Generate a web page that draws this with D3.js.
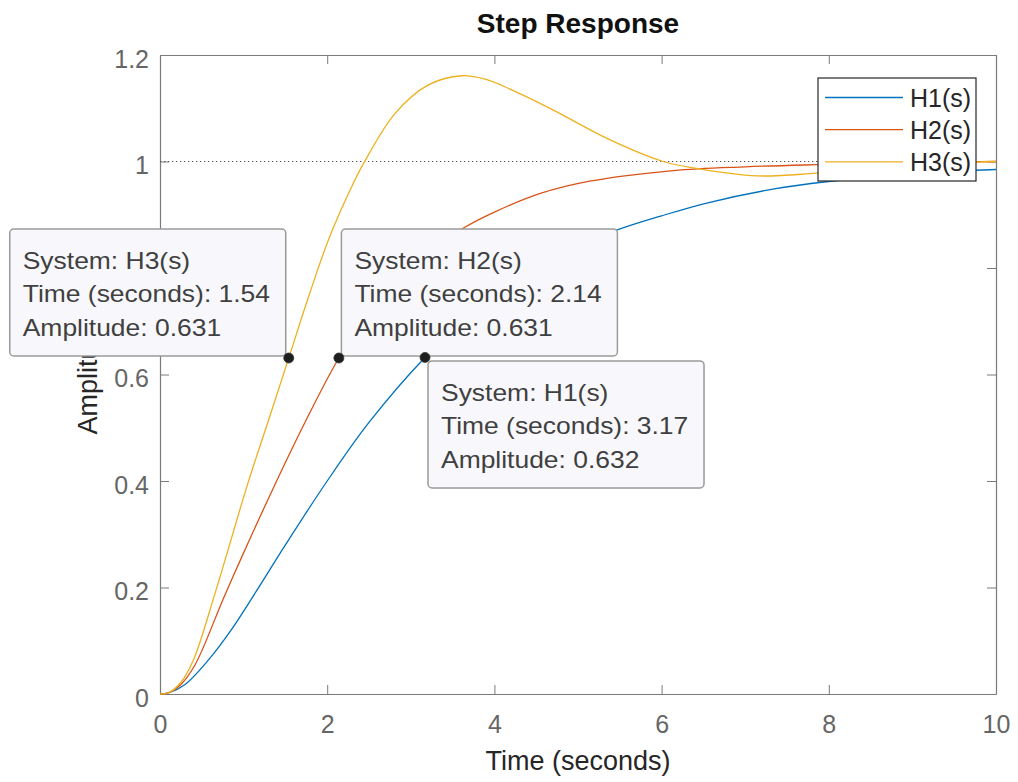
<!DOCTYPE html>
<html>
<head>
<meta charset="utf-8">
<script src="https://cdn.jsdelivr.net/npm/d3@7"></script>
<style>
  body { margin: 0; background: #fff; }
  text { font-family: "Liberation Sans", Arial, sans-serif; }
</style>
</head>
<body>
<div id="chart"></div>
<script>
// step response samples: [time, amplitude]
const h1 = [[0,0],[0.1,0.002],[0.3,0.018],[0.58,0.064],[0.85,0.12],[1.16,0.195],[1.5,0.28],
  [2.0,0.40],[2.5,0.51],[3.17,0.632],[3.5,0.68],[4.0,0.745],[4.5,0.80],[5.0,0.84],[5.46,0.871],
  [6.0,0.898],[6.54,0.922],[7.33,0.948],[7.97,0.962],[9.0,0.977],[10,0.985]]
const h2 = [[0,0],[0.1,0.002],[0.25,0.018],[0.42,0.055],[0.76,0.18],[1.0,0.265],[1.38,0.395],
  [1.75,0.515],[2.14,0.631],[2.5,0.715],[3.0,0.80],[3.3,0.84],[3.63,0.875],[4.0,0.905],
  [4.55,0.94],[5.14,0.963],[6.14,0.983],[7.0,0.99],[7.85,0.994],[9.0,0.998],[10,1.0]]
const h3 = [[0,0],[0.1,0.002],[0.25,0.022],[0.4,0.064],[0.66,0.19],[1.05,0.395],[1.3,0.515],
  [1.54,0.631],[1.79,0.752],[2.02,0.855],[2.27,0.945],[2.43,0.995],[2.81,1.09],[3.2,1.143],
  [3.61,1.161],[3.9,1.154],[4.2,1.135],[4.70,1.097],[5.34,1.044],[6.02,1.0],[6.38,0.988],
  [7.14,0.973],[7.85,0.978],[8.5,0.986],[9.2,0.995],[10,1.0]]

const seriesNames = ["H1(s)", "H2(s)", "H3(s)"]
const seriesColors = ["#0072BD", "#D95319", "#EDB120"]
const xTicks = [0, 2, 4, 6, 8, 10]
const yTicks = [0, 0.2, 0.4, 0.6, 0.8, 1, 1.2]
const yTickLabels = ["0", "0.2", "0.4", "0.6", "0.8", "1", "1.2"]
// data tips: system, time, amplitude
const tipSystems = ["H3(s)", "H2(s)", "H1(s)"]
const tipTimes = [1.54, 2.14, 3.17]
const tipAmps = [0.631, 0.631, 0.632]

const W = 1018, H = 782
const margin = { top: 55, right: 22, bottom: 88, left: 160 }
const width = W - margin.left - margin.right,
    height = H - margin.top - margin.bottom

const svg = d3.select("#chart").append("svg")
    .attr("width", W).attr("height", H)
const g = svg.append("g")
    .attr("transform", `translate(${margin.left},${margin.top})`)

const x = d3.scaleLinear().domain([0, 10]).range([0, width])
const y = d3.scaleLinear().domain([0, 1.2]).range([height, 0])

const axisCol = "#7a7a7a"
function styleAxis(sel) {
  sel.select(".domain").attr("stroke", axisCol).attr("stroke-width", 1.2)
  sel.selectAll(".tick line").attr("stroke", axisCol).attr("stroke-width", 1)
  sel.selectAll("text").attr("fill", "#666").style("font-size", "25px")
}

// bottom / left with labels, top / right mirrored
g.append("g").attr("transform", `translate(0,${height})`)
  .call(d3.axisBottom(x).tickValues(xTicks).tickSizeInner(-9).tickSizeOuter(0).tickPadding(21))
  .call(styleAxis)
g.append("g")
  .call(d3.axisLeft(y).tickValues(yTicks).tickSizeInner(-9).tickSizeOuter(0).tickPadding(11)
    .tickFormat((d, i) => yTickLabels[i]))
  .call(styleAxis)
  .selectAll("text").attr("dy", "0.48em")
g.append("g")
  .call(d3.axisTop(x).tickValues(xTicks).tickSizeInner(-9).tickSizeOuter(0).tickFormat(""))
  .call(styleAxis)
g.append("g").attr("transform", `translate(${width},0)`)
  .call(d3.axisRight(y).tickValues(yTicks).tickSizeInner(-9).tickSizeOuter(0).tickFormat(""))
  .call(styleAxis)

// steady state reference
g.append("line")
  .attr("x1", 0).attr("x2", width).attr("y1", y(1)).attr("y2", y(1))
  .attr("stroke", "#555").attr("stroke-width", 1.2).attr("stroke-dasharray", "1.3,2.7")

const line = d3.line().x(d => x(d[0])).y(d => y(d[1])).curve(d3.curveCatmullRom.alpha(0.5))
;[h1, h2, h3].forEach((s, i) => {
  g.append("path").datum(s)
    .attr("d", line)
    .attr("fill", "none")
    .attr("stroke", seriesColors[i])
    .attr("stroke-width", 1.3)
})

// titles
svg.append("text")
  .attr("x", margin.left + width / 2).attr("y", 33)
  .attr("text-anchor", "middle")
  .style("font-size", "28px").style("font-weight", "bold").attr("fill", "#111")
  .text("Step Response")
svg.append("text")
  .attr("x", margin.left + width / 2).attr("y", 770)
  .attr("text-anchor", "middle")
  .style("font-size", "27px").attr("fill", "#262626")
  .text("Time (seconds)")
svg.append("text")
  .attr("transform", `translate(97,${margin.top + height / 2}) rotate(-90)`)
  .attr("text-anchor", "middle")
  .style("font-size", "27px").attr("fill", "#262626")
  .text("Amplitude")

// legend
const leg = svg.append("g").attr("transform", "translate(818,78)")
leg.append("rect").attr("width", 158).attr("height", 103)
  .attr("fill", "#fff").attr("stroke", "#262626").attr("stroke-width", 1.2)
seriesNames.forEach((n, i) => {
  const ly = 19.5 + i * 32.2
  leg.append("line").attr("x1", 7).attr("x2", 85).attr("y1", ly).attr("y2", ly)
    .attr("stroke", seriesColors[i]).attr("stroke-width", 1.3)
  leg.append("text").attr("x", 92).attr("y", ly).attr("dy", "0.36em")
    .style("font-size", "25px").attr("fill", "#262626").text(n)
})

// data tips
const boxW = 276, boxH = 127
// box offset from marker: [dx, dy] of box top-left
const tipOffsets = [[-boxW - 3, -boxH - 2], [2.5, -boxH - 2], [3, 3.5]]
tipSystems.forEach((sys, i) => {
  const mx = margin.left + x(tipTimes[i]), my = margin.top + y(tipAmps[i])
  const bx = mx + tipOffsets[i][0], by = my + tipOffsets[i][1]
  const tg = svg.append("g")
  tg.append("rect").attr("x", bx).attr("y", by).attr("width", boxW).attr("height", boxH)
    .attr("rx", 4).attr("fill", "#f8f8fc").attr("stroke", "#9a9a9a").attr("stroke-width", 1.5)
  const lines = ["System: " + sys,
    "Time (seconds): " + tipTimes[i].toFixed(2),
    "Amplitude: " + tipAmps[i].toFixed(3)]
  lines.forEach((t, k) => {
    tg.append("text")
      .attr("transform", `translate(${bx + 13},${by + 40 + k * 33.5}) scale(1.15,1)`)
      .style("font-size", "23px").attr("fill", "#404040")
      .text(t)
  })
})
// markers on top
tipSystems.forEach((sys, i) => {
  svg.append("circle")
    .attr("cx", margin.left + x(tipTimes[i])).attr("cy", margin.top + y(tipAmps[i]))
    .attr("r", 5).attr("fill", "#1e1e1e").attr("stroke", "#333").attr("stroke-width", 0.8)
})
</script>
</body>
</html>
